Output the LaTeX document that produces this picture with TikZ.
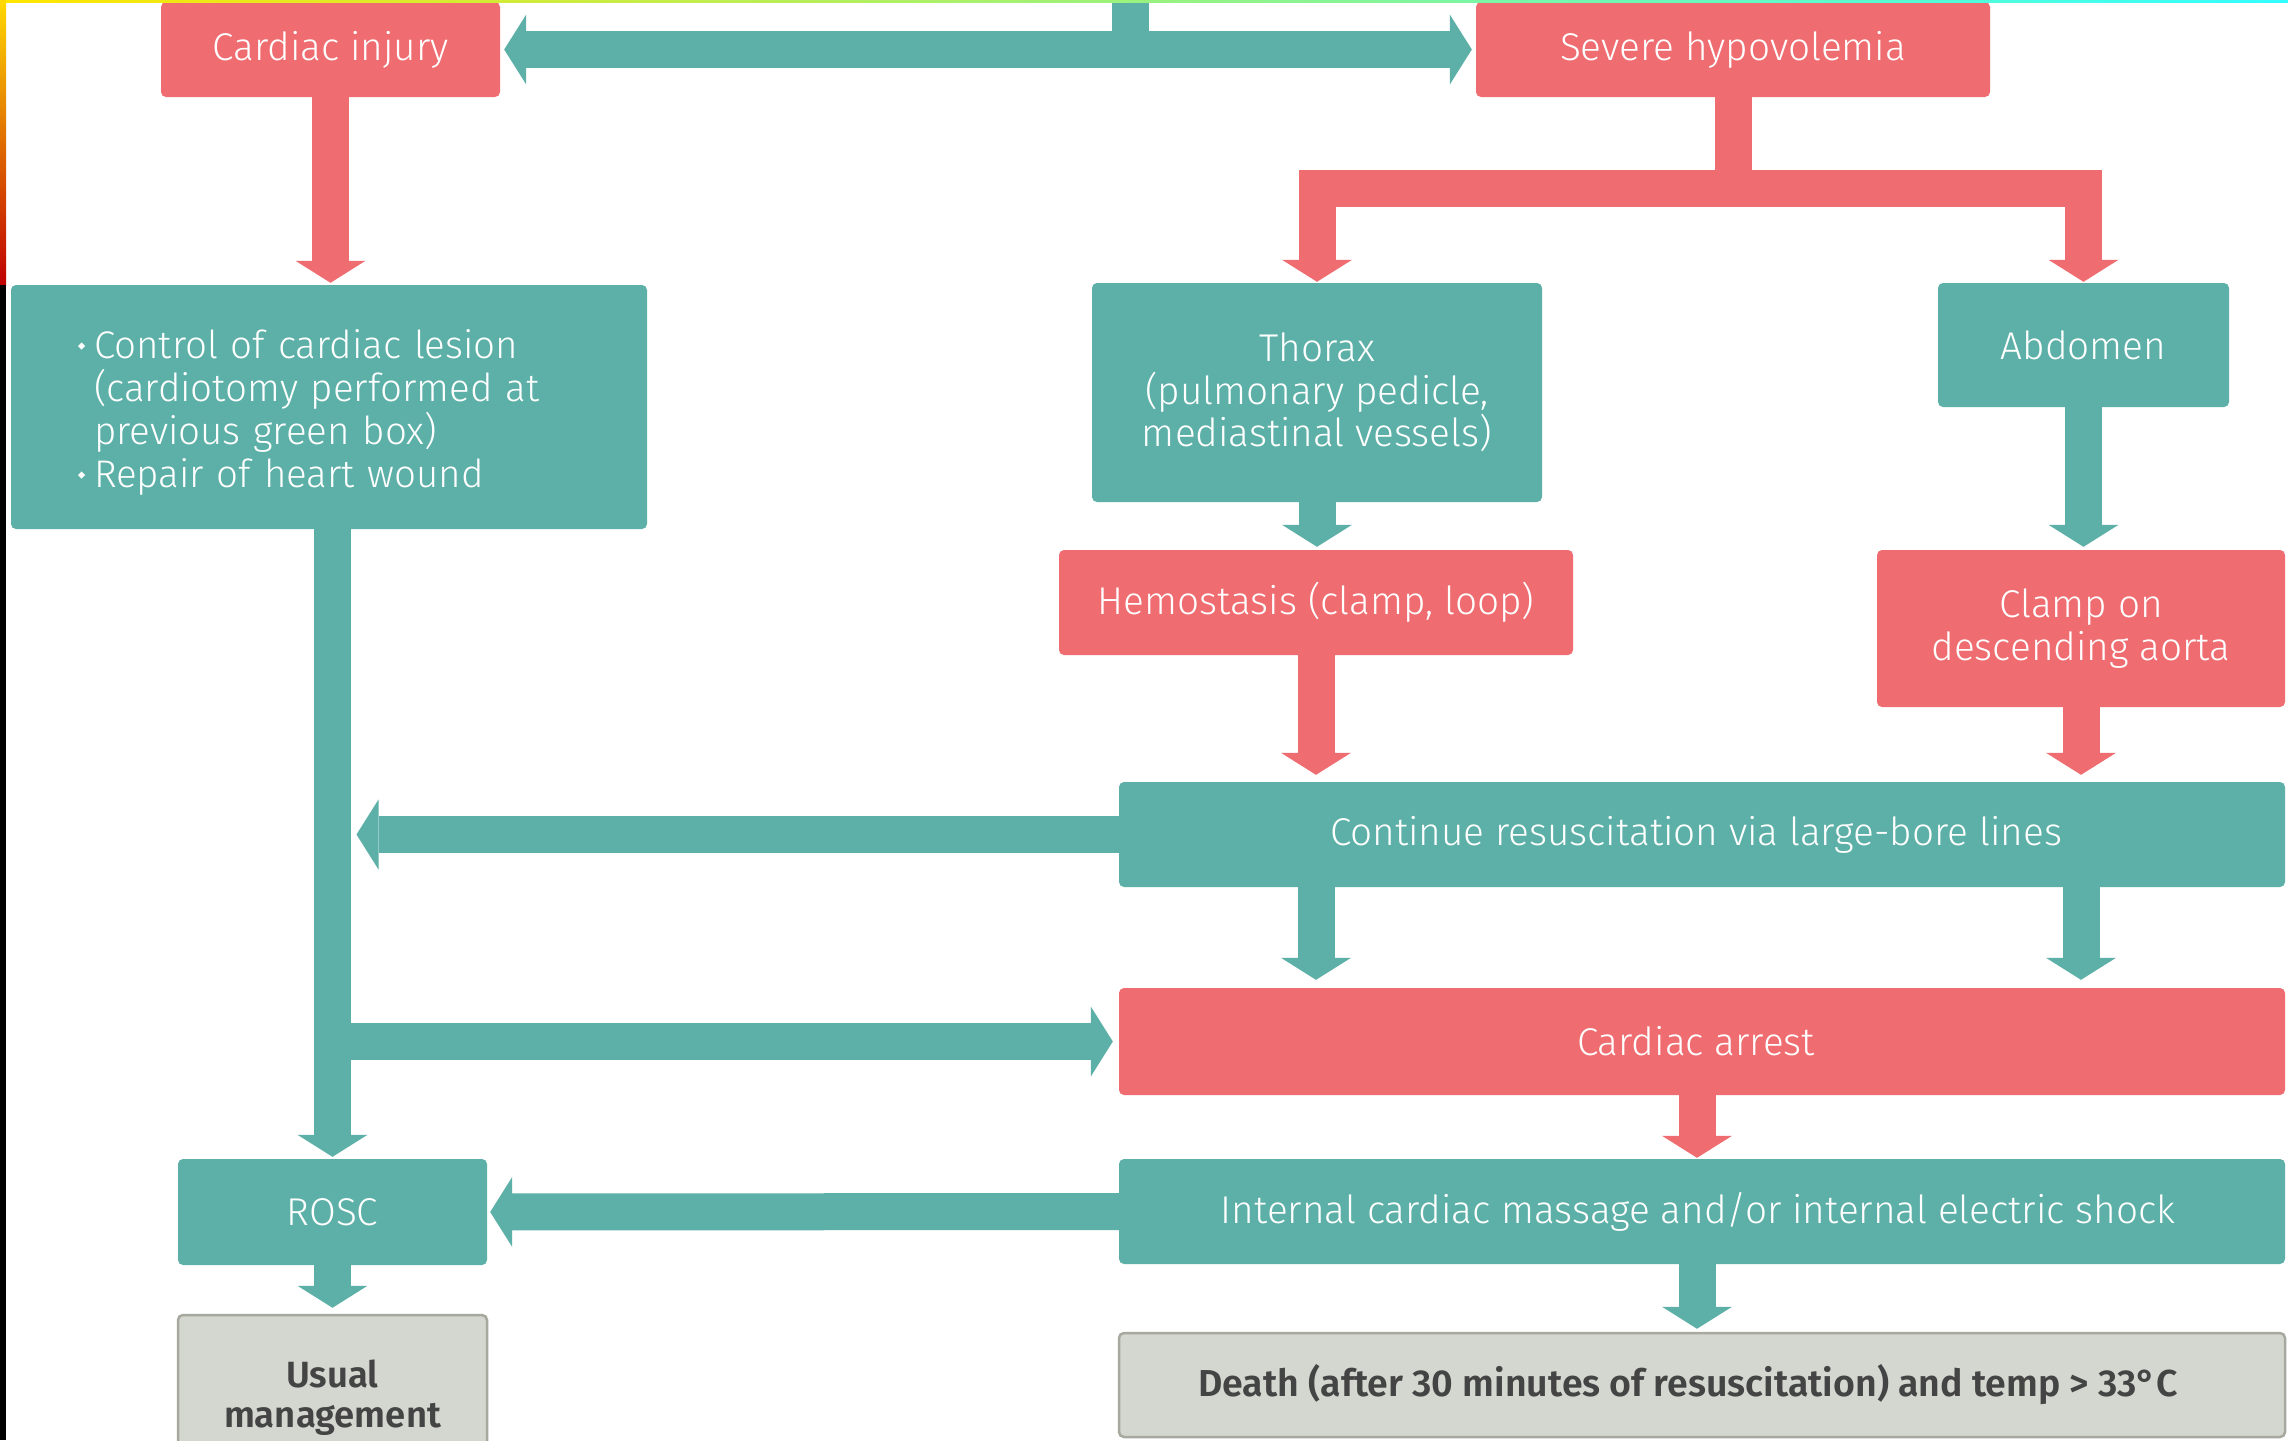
\documentclass[tikz,border=0pt]{standalone}
\usepackage{fontspec}
\setmainfont{Fira Sans Light}[BoldFont={Fira Sans SemiBold}]
\usetikzlibrary{arrows.meta}

\definecolor{rd}{HTML}{EF6C70}
\definecolor{tl}{HTML}{5CB0A7}
\definecolor{gy}{HTML}{D4D7D0}
\definecolor{gyb}{HTML}{A7A99F}
\definecolor{tx}{HTML}{444444}

\tikzset{
  box/.style={rectangle, rounded corners=5pt, inner sep=0pt, align=center,
    text=white, font=\fontsize{38.7}{42.5}\selectfont},
  redbox/.style={box, fill=rd},
  tealbox/.style={box, fill=tl},
  greybox/.style={box, fill=gy, draw=gyb, line width=2.5pt, text=tx,
    font=\fontsize{36.5}{40}\selectfont\bfseries},
  shaft/.style={line width=37pt, line join=miter},
  flow/.style={shaft, -{Triangle[width=70pt,length=22pt,line width=0pt]}},
  flowboth/.style={shaft, {Triangle[width=70pt,length=22pt,line width=0pt]}-{Triangle[width=70pt,length=22pt,line width=0pt]}},
}
\newcommand{\bul}{\makebox[16pt][l]{\raisebox{9pt}{\rotatebox{45}{\rule{5pt}{5pt}}}}}
% pushes a centred line a little to the left
\newcommand{\nudge}[1]{\hspace*{#1}}

\begin{document}
\begin{tikzpicture}[x=1pt,y=-1pt]
\useasboundingbox (0,0) rectangle (2288,1440);
\fill[white] (0,0) rectangle (2288,1440);

% boxes
\node[redbox, minimum width=339pt, minimum height=95pt] (ci) at (330.5,49.5) {Cardiac injury};
\node[redbox, minimum width=514pt, minimum height=95pt] (sh) at (1733,49.5) {Severe hypovolemia};
\node[tealbox, minimum width=636pt, minimum height=244pt, align=left, text width=502pt,
      font=\fontsize{38.5}{43}\selectfont] (ctl) at (329,407)
  {\rule{0pt}{40pt}\bul Control of cardiac lesion\\
   \hspace*{16pt}(cardiotomy performed at\\
   \hspace*{16pt}previous green box)\\
   \bul Repair of heart wound};
\node[tealbox, minimum width=450pt, minimum height=219pt] (tho) at (1317,392.5)
  {Thorax\\(pulmonary pedicle,\\mediastinal vessels)};
\node[tealbox, minimum width=291pt, minimum height=124pt] (abd) at (2083.5,345) {Abdomen};
\node[redbox, minimum width=514pt, minimum height=105pt] (hem) at (1316,602.5) {Hemostasis (clamp, loop)};
\node[redbox, minimum width=408pt, minimum height=157pt] (clamp) at (2081,628.5) {Clamp on\\descending aorta};
\node[tealbox, minimum width=1166pt, minimum height=105pt] (cont) at (1702,834.5) {Continue resuscitation via large-bore lines\nudge{12pt}};
\node[redbox, minimum width=1166pt, minimum height=107pt] (arr) at (1702,1041.5) {Cardiac arrest\nudge{12pt}};
\node[tealbox, minimum width=1166pt, minimum height=105pt] (icm) at (1702,1211.5) {Internal cardiac massage and/or internal electric shock\nudge{8pt}};
\node[greybox, minimum width=1166pt, minimum height=104pt, font=\fontsize{37.5}{40}\selectfont\bfseries] (death) at (1702,1385) {Death (after 30 minutes of resuscitation) and temp > 33°C\nudge{28pt}};
\node[tealbox, minimum width=309pt, minimum height=106pt] (rosc) at (332.5,1212) {ROSC};
\node[greybox, minimum width=309pt, minimum height=165pt] (usual) at (332.5,1397.5) {Usual\\management};

% connectors
\coordinate (stub) at (1130,-10);
\coordinate (fork) at (1736,188);
\draw[tl, shaft] (stub) -- (stub |- ci.east);
\draw[tl, flowboth, shorten <=4pt, shorten >=4pt] (ci.east) -- (sh.west);
\draw[rd, shaft] (sh.south) -- (sh.south |- fork);
\draw[rd, flowboth, shorten <=1pt, shorten >=1pt] (tho.north) -- (tho.north |- fork) -- (abd.north |- fork) -- (abd.north);
\draw[rd, flow, shorten >=2pt] (ci.south) -- (ci.south |- ctl.north);
\draw[tl, flow, shorten >=3pt] (tho.south) -- (tho.south |- hem.north);
\draw[tl, flow, shorten >=3pt] (abd.south) -- (abd.south |- clamp.north);
\draw[rd, flow, shorten >=7pt] (hem.south) -- (hem.south |- cont.north);
\draw[rd, flow, shorten >=7pt] (clamp.south) -- (clamp.south |- cont.north);
\draw[tl, flow, shorten >=2pt] (rosc.north |- ctl.south) -- (rosc.north);
\draw[tl, flow, shorten >=24pt] (cont.west) -- (cont.west -| rosc.north);
\draw[tl, flow, shorten >=6pt] (arr.west -| rosc.north) -- (arr.west);
\draw[tl, flow, shorten >=8pt] (hem.south |- cont.south) -- (hem.south |- arr.north);
\draw[tl, flow, shorten >=8pt] (clamp.south |- cont.south) -- (clamp.south |- arr.north);
\draw[rd, flow, shorten >=1pt] ([xshift=-5pt]arr.south) -- ([xshift=-5pt]arr.south |- icm.north);
\draw[tl, flow, shorten >=3pt] (icm.west) -- (rosc.east);
\draw[tl, flow, shorten >=6pt] (rosc.south) -- (rosc.south |- usual.north);
\draw[tl, flow, shorten >=3pt] ([xshift=-5pt]icm.south) -- ([xshift=-5pt]icm.south |- death.north);

% scanned edge strips
\shade[top color=yellow!70!orange, bottom color=red!75!black] (0,0) rectangle (6,285);
\fill[black] (0,285) rectangle (6,1440);
\shade[left color=yellow!80!orange, right color=cyan!80] (6,0) rectangle (2288,2.5);
\end{tikzpicture}
\end{document}
